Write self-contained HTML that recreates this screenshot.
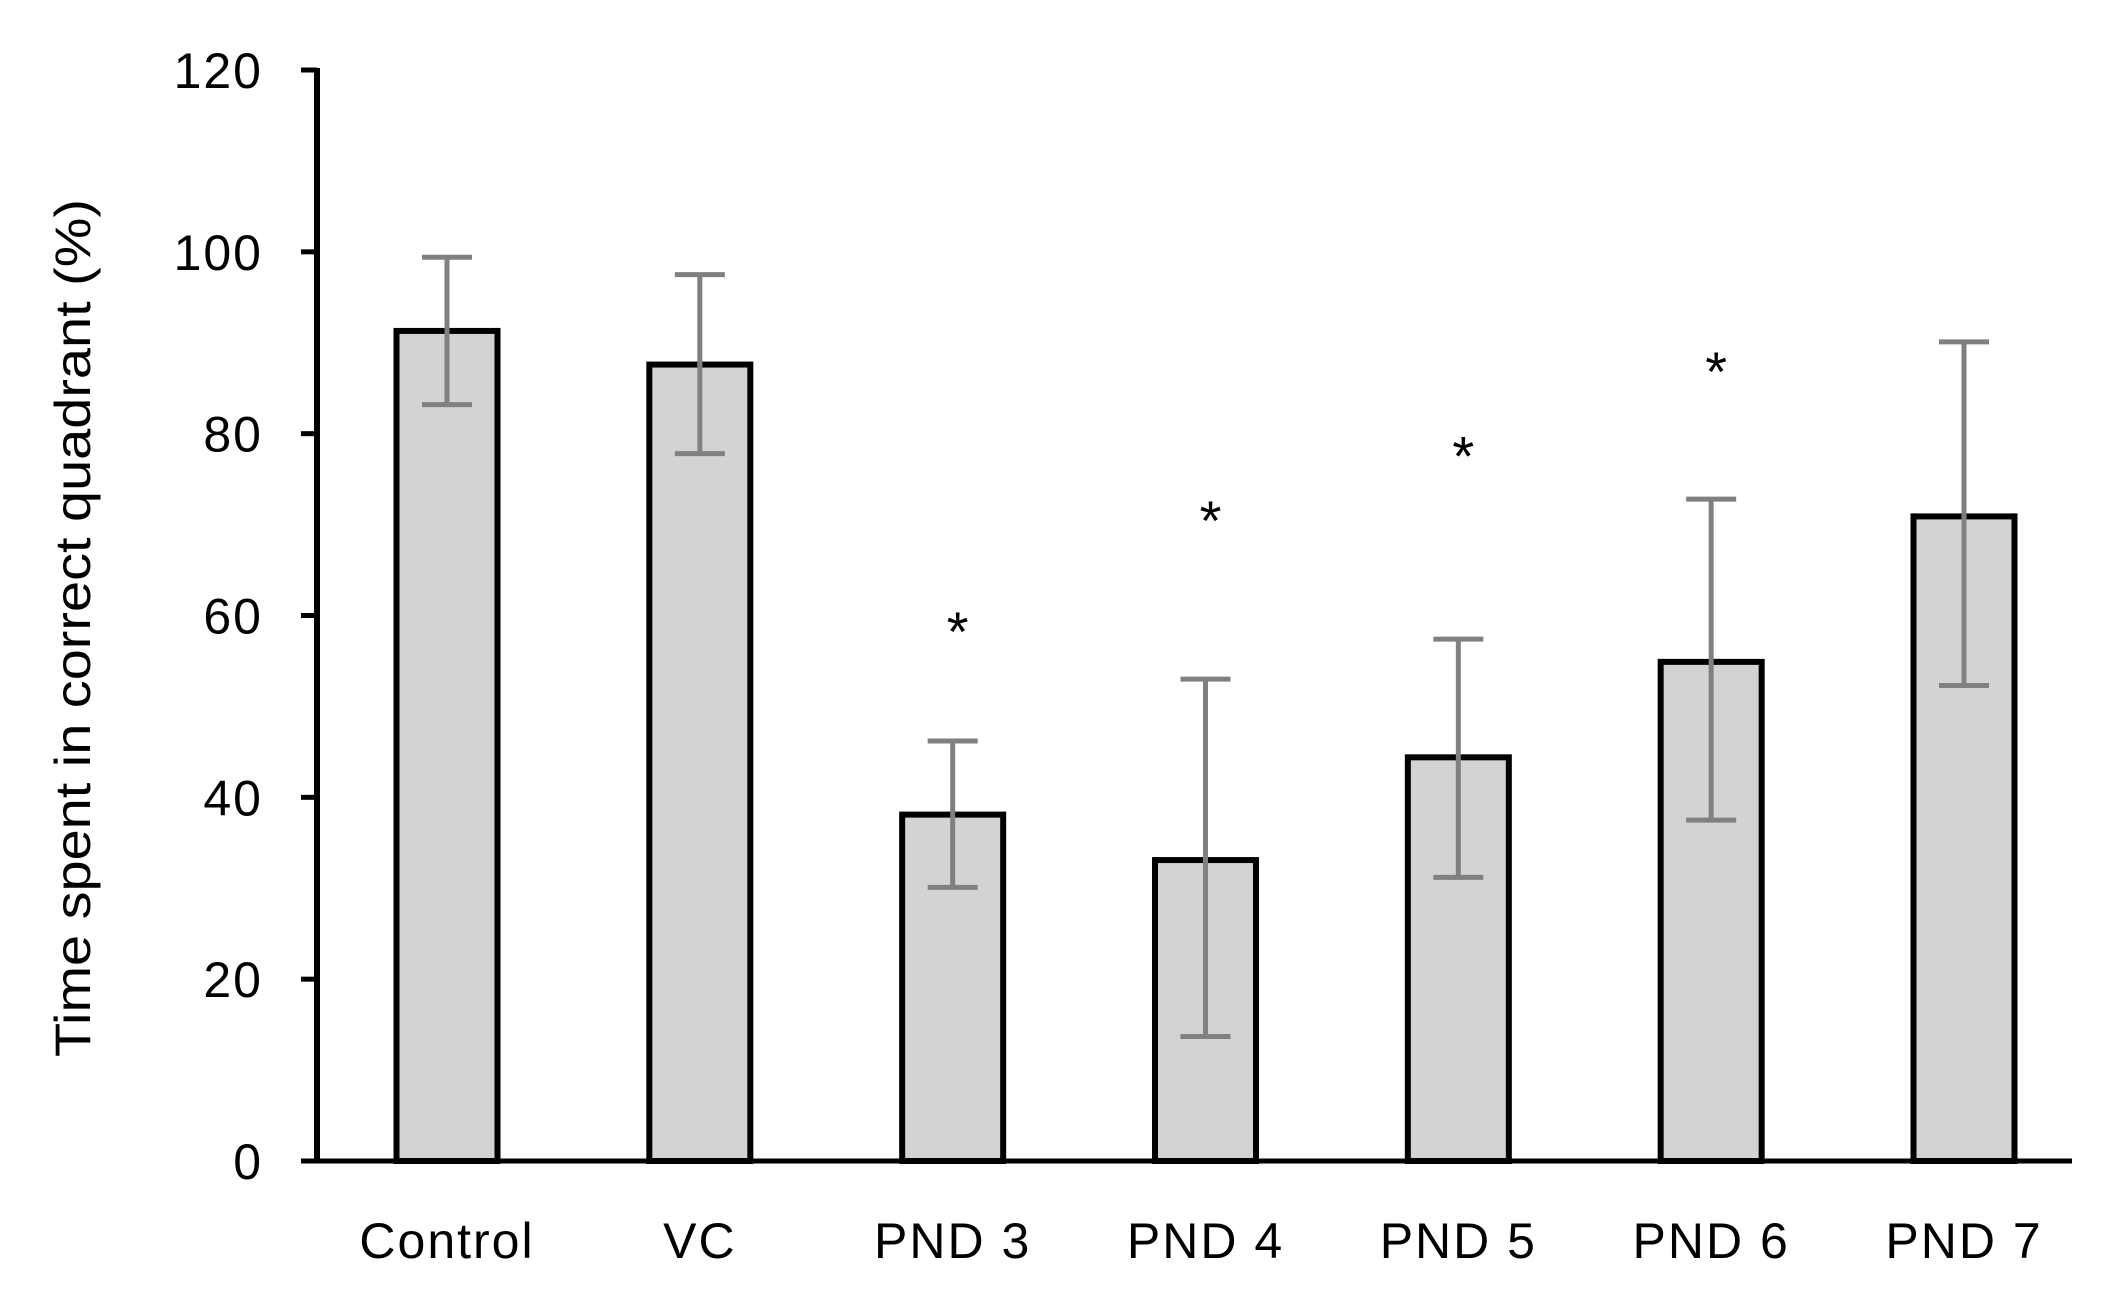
<!DOCTYPE html>
<html><head><meta charset="utf-8"><style>body{margin:0;background:#fff}svg{display:block}</style></head>
<body>
<svg id="chart" width="2117" height="1310" xmlns="http://www.w3.org/2000/svg" font-family="Liberation Sans, sans-serif">
<text x="0" y="0" transform="translate(90,628) rotate(-90)" text-anchor="middle" font-size="50" textLength="858" lengthAdjust="spacingAndGlyphs">Time spent in correct quadrant (%)</text>
<g id="plot"></g>
</svg>
<script>
const categories = ["Control","VC","PND 3","PND 4","PND 5","PND 6","PND 7"];
const means = [91.3, 87.6, 38.1, 33.1, 44.4, 54.9, 70.9];
const errLow = [83.2, 77.8, 30.1, 13.7, 31.2, 37.5, 52.3];
const errHigh = [99.4, 97.5, 46.2, 53.0, 57.4, 72.8, 90.1];
const starValues = [null, null, 59.4, 71.6, 78.7, 88.0, null];
const yTicks = [0,20,40,60,80,100,120];

const NS="http://www.w3.org/2000/svg";
const g=document.getElementById('plot');
const x0=317, x1=2072, yb=1161, yt=70, yMax=120;
const firstC=447, lastC=1964, bw=101;
const y=v=>yb-(v/yMax)*(yb-yt);
const xc=i=>firstC+(lastC-firstC)*i/(categories.length-1);
function el(tag,attrs){const e=document.createElementNS(NS,tag);for(const k in attrs)e.setAttribute(k,attrs[k]);g.appendChild(e);return e;}

yTicks.forEach(t=>{
  const tk=el('line',{x1:x0-16,x2:x0,y1:y(t),y2:y(t),stroke:'#000','stroke-width':5});
  
  
  const lb=el('text',{x:263,y:y(t)+18,'text-anchor':'end','font-size':50,'letter-spacing':2});
  lb.textContent=t;
  
  
});
categories.forEach((c,i)=>{
  const r=el('rect',{x:xc(i)-bw/2,y:y(means[i]),width:bw,height:yb-y(means[i]),fill:'#d3d3d3',stroke:'#000','stroke-width':6});
  
  
  const eg=document.createElementNS(NS,'g');g.appendChild(eg);
  
  
  [[xc(i),xc(i),y(errLow[i]),y(errHigh[i])],[xc(i)-25,xc(i)+25,y(errLow[i]),y(errLow[i])],[xc(i)-25,xc(i)+25,y(errHigh[i]),y(errHigh[i])]].forEach(a=>{
    const l=document.createElementNS(NS,'line');
    l.setAttribute('x1',a[0]);l.setAttribute('x2',a[1]);l.setAttribute('y1',a[2]);l.setAttribute('y2',a[3]);
    l.setAttribute('stroke','#808080');l.setAttribute('stroke-width',5);eg.appendChild(l);
  });
  const lb=el('text',{x:xc(i),y:1258,'text-anchor':'middle','font-size':50,'letter-spacing':2});
  lb.textContent=c;
  
  
  if(starValues[i]!==null){
    const s=el('text',{x:xc(i)+5,y:y(starValues[i])+30,'text-anchor':'middle','font-size':56});
    s.textContent='*';
    
    
  }
});
const ya=el('line',{x1:x0,x2:x0,y1:yt-2,y2:yb+2,stroke:'#000','stroke-width':6});


const xa=el('line',{x1:x0-16,x2:x1,y1:yb,y2:yb,stroke:'#000','stroke-width':5});


</script>
</body></html>
